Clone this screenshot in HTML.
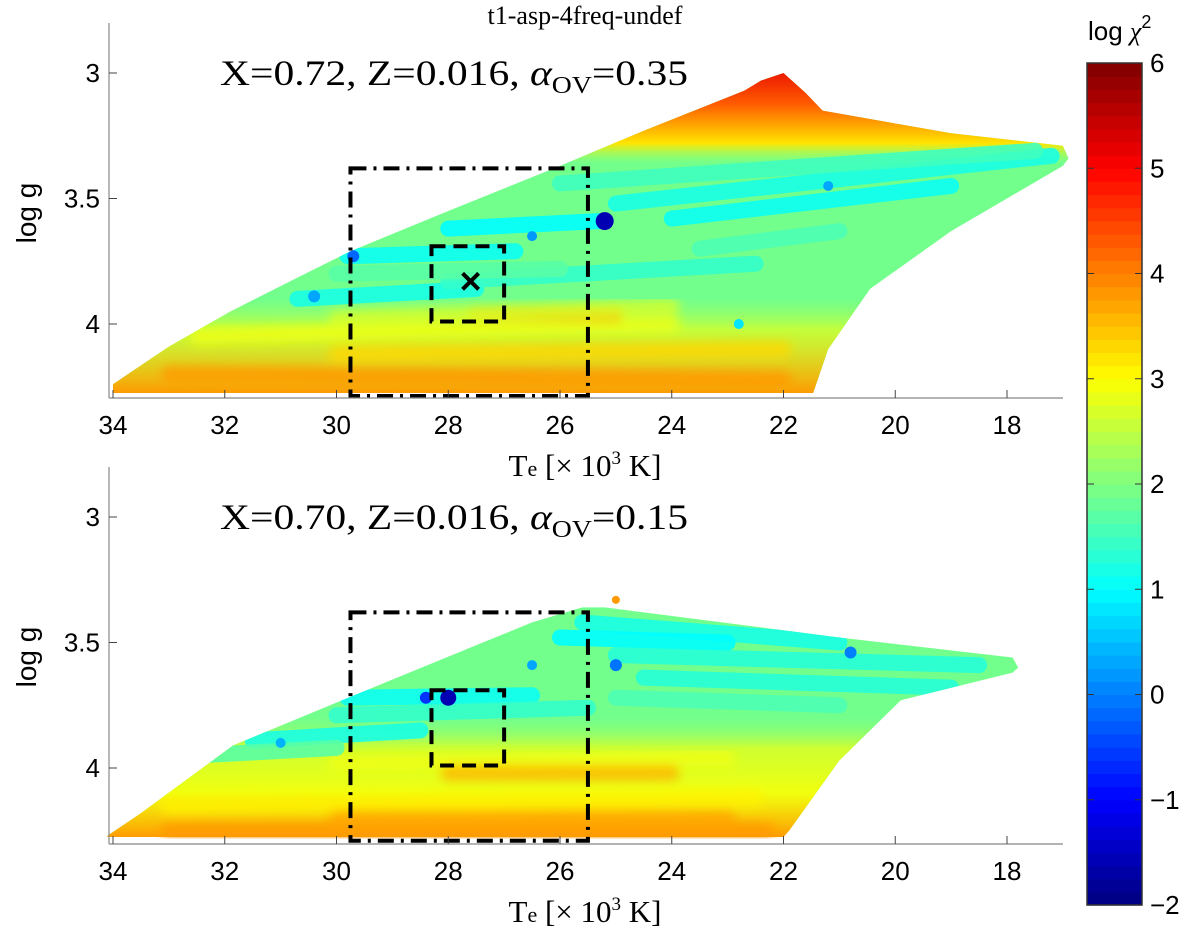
<!DOCTYPE html>
<html><head><meta charset="utf-8"><style>
body{margin:0;background:#fff;}
svg{display:block;font-family:"Liberation Sans",sans-serif;}
.serif{font-family:"Liberation Serif",serif;}
</style></head><body>
<svg id="chart" width="1200" height="945" viewBox="0 0 1200 945">
<defs><filter id="blur" x="-10%" y="-10%" width="120%" height="120%"><feGaussianBlur stdDeviation="5"/></filter></defs>
</svg>
<script>
// ---- data ----
const xTicks=[34,32,30,28,26,24,22,20,18];
const yTicks=[3,3.5,4];
const cbTicks=[6,5,4,3,2,1,0,-1,-2];
const cbTickLabels=["6","5","4","3","2","1","0","\u22121","\u22122"];
// shape outlines [Te, logg]
const topShape=[[34,4.24],[33.6,4.18],[33,4.09],[31.9,3.95],[30.65,3.81],[29.75,3.71],[28,3.55],[26,3.37],[24.5,3.23],[22.7,3.07],[22.4,3.03],[22,3.0],[21.6,3.08],[21.3,3.15],[19,3.24],[17,3.29],[16.9,3.34],[17,3.37],[19,3.63],[20.45,3.86],[21.2,4.1],[21.5,4.3],[34,4.3]];
const botShape=[[34.1,4.27],[33.5,4.18],[31.85,3.91],[29.9,3.73],[27.6,3.52],[26.5,3.42],[25.6,3.36],[25.2,3.36],[21,3.48],[17.9,3.56],[17.8,3.6],[17.9,3.62],[19.9,3.73],[21,3.97],[21.9,4.25],[22.1,4.3],[34.1,4.3]];
// streaks [Te1, g1, Te2, g2, log chi2]
const topStreaks=[[29.8,3.73,26.8,3.71,1.1],[28,3.62,25.3,3.59,1.0],[25,3.52,17.2,3.33,1.2],[26,3.44,17.5,3.31,1.5],[24,3.58,19,3.45,1.1],[30.7,3.9,27.5,3.86,1.2],[28,3.83,22.5,3.76,1.4],[23.5,3.7,21,3.63,1.6],[30,3.80,26,3.78,1.7]];
const topWarm=[[32.5,4.05,24,4.0,2.9],[30,4.12,22,4.1,3.3],[27.5,3.96,25,3.96,3.6],[33,4.2,22,4.22,3.8],[30,3.98,24,3.93,2.7]];
const botStreaks=[[25.6,3.42,21,3.5,1.2],[25,3.55,18.5,3.59,1.3],[24.5,3.64,19,3.68,1.3],[26,3.48,23,3.5,1.0],[29.8,3.72,26.5,3.71,1.1],[31.5,3.89,28.5,3.85,1.2],[30,3.79,25.5,3.76,1.4],[25,3.72,21,3.75,1.6],[32.5,3.95,30,3.92,1.7]];
const botWarm=[[30,3.98,23,3.96,2.9],[28,4.02,24,4.02,3.6],[33,4.15,22.5,4.12,3.1],[33,4.25,22.3,4.25,3.8],[30,4.2,23,4.2,3.7]];
const topPoints=[[25.2,3.59,-1.6,9],[29.7,3.73,-0.2,6],[30.4,3.89,0.3,6],[26.5,3.65,0.2,5],[21.2,3.45,0.3,5],[22.8,4.0,0.8,5]];
const botPoints=[[28,3.72,-1.6,8],[28.4,3.72,-0.6,6],[25,3.59,-0.1,6],[20.8,3.54,0,6],[25,3.33,3.8,4],[31,3.9,0.4,5],[26.5,3.59,0.3,5]];
const innerBox=[28.3,3.69,27.0,3.99];
const outerBox=[29.75,3.38,25.5,4.29];
const starPt=[27.6,3.83];

// ---- helpers ----
function jet(v){let t=(v+2)/8;t=Math.max(0,Math.min(1,t));
 const f=x=>Math.max(0,Math.min(1,1.5-Math.abs(4*t-x)));
 return `rgb(${Math.round(255*f(3))},${Math.round(255*f(2))},${Math.round(255*f(1))})`;}
const svg=document.getElementById('chart');const NS='http://www.w3.org/2000/svg';
function mk(tag,attrs,parent){const e=document.createElementNS(NS,tag);for(const k in attrs)e.setAttribute(k,attrs[k]);(parent||svg).appendChild(e);return e;}
const xs=te=>113+(34-te)*55.875;
function panel(id,y3,yb,shape,streaks,warm,points,grad,label){
 const ys=g=>y3+(g-3)*251;
 const g=mk('g',{});
 
 
 const cp=mk('clipPath',{id:id+'-clip'},g);
 mk('polygon',{points:shape.map(p=>xs(p[0])+','+Math.min(ys(p[1]),yb)).join(' ')},cp);
 const fg=mk('g',{'clip-path':`url(#${id}-clip)`},g);
 
 
 mk('rect',{x:90,y:y3-80,width:1000,height:400,fill:jet(1.9)},fg);
 const lg=mk('linearGradient',{id:id+'-g',gradientUnits:'userSpaceOnUse',x1:0,x2:0,y1:ys(2.95),y2:ys(4.3)},g);
 grad.forEach(s=>mk('stop',{offset:(ys(s[0])-ys(2.95))/(ys(4.3)-ys(2.95)),'stop-color':jet(s[1]),'stop-opacity':s[2]},lg));
 mk('rect',{x:90,y:y3-80,width:1000,height:400,fill:`url(#${id}-g)`},fg);
 const bl=mk('g',{filter:'url(#blur)'},fg);
 warm.forEach(s=>{const l=mk('line',{x1:xs(s[0]),y1:ys(s[1]),x2:xs(s[2]),y2:ys(s[3]),stroke:jet(s[4]),'stroke-width':16,'stroke-linecap':'round',opacity:0.8},bl);
  });
 streaks.forEach(s=>{const l=mk('line',{x1:xs(s[0]),y1:ys(s[1]),x2:xs(s[2]),y2:ys(s[3]),stroke:jet(s[4]),'stroke-width':16,'stroke-linecap':'round',opacity:0.9},fg);
  });
 points.forEach(p=>{const c=mk('circle',{cx:xs(p[0]),cy:ys(p[1]),r:p[3],fill:jet(p[2])},p[2]>3?g:fg);
  });
 const ob=mk('rect',{x:xs(outerBox[0]),y:ys(outerBox[1]),width:xs(outerBox[2])-xs(outerBox[0]),height:Math.min(ys(outerBox[3]),yb-2)-ys(outerBox[1]),fill:'none',stroke:'#000','stroke-width':4,'stroke-dasharray':'16,7,3,7'},g);
 
 const ib=mk('rect',{x:xs(innerBox[0]),y:ys(innerBox[1]),width:xs(innerBox[2])-xs(innerBox[0]),height:ys(innerBox[3])-ys(innerBox[1]),fill:'none',stroke:'#000','stroke-width':4,'stroke-dasharray':'14,8'},g);
 
 const ax=mk('path',{d:`M109 ${yb} H1063 M109 ${yb} V${y3-50}`,stroke:'#888','stroke-width':1.2,fill:'none'},g);
 
 xTicks.forEach(t=>{mk('line',{x1:xs(t),x2:xs(t),y1:yb,y2:yb-8,stroke:'#444'},g);
  const tx=mk('text',{x:xs(t),y:yb+36,'text-anchor':'middle','font-size':26},g);tx.textContent=t;
  });
 yTicks.forEach(t=>{mk('line',{x1:109,x2:117,y1:ys(t),y2:ys(t),stroke:'#444'},g);
  const tx=mk('text',{x:100,y:ys(t)+9,'text-anchor':'end','font-size':26},g);tx.textContent=t;
  });
 const xl=mk('text',{x:585,y:yb+78,'text-anchor':'middle','font-size':31,class:'serif'},g);
 xl.innerHTML='T<tspan font-size="22">e</tspan> [× 10<tspan font-size="19" dy="-12">3</tspan><tspan dy="12"> K]</tspan>';
 
 const yl=mk('text',{x:0,y:0,'text-anchor':'middle','font-size':28,transform:`translate(36,${y3+140}) rotate(-90)`},g);yl.textContent='log g';
 
 const an=mk('text',{x:220,y:y3+12,'font-size':36,class:'serif',textLength:468,lengthAdjust:'spacingAndGlyphs'},g);
 an.innerHTML=label+', <tspan font-style="italic">α</tspan><tspan font-size="24" dy="8">OV</tspan><tspan dy="-8">=</tspan>'+(id==='top-panel'?'0.35':'0.15');
 
 return ys;
}
const ysT=panel('top-panel',73,398,topShape,topStreaks,topWarm,topPoints,
 [[2.95,5.2,1],[3.12,4.3,1],[3.28,3.2,1],[3.36,2.4,0],[3.9,2.4,0],[4.02,2.8,0.7],[4.28,3.8,1]],'X=0.72, Z=0.016');
const ysB=panel('bottom-panel',517,844,botShape,botStreaks,botWarm,botPoints,
 [[2.95,1.9,0],[3.8,2.2,0],[3.92,2.8,0.8],[4.1,3.0,0.9],[4.28,3.8,1]],'X=0.70, Z=0.016');
const sx=xs(starPt[0]),sy=ysT(starPt[1]);
const st=mk('path',{d:`M${sx-8} ${sy-8}L${sx+8} ${sy+8}M${sx-8} ${sy+8}L${sx+8} ${sy-8}`,stroke:'#000','stroke-width':4});

const ti=mk('text',{x:585,y:24,'text-anchor':'middle','font-size':26,class:'serif'});ti.textContent='t1-asp-4freq-undef';

const cb=mk('g',{});


const cy=v=>63+(6-v)*105.25;
for(let i=0;i<64;i++){const v=-2+8*(i+0.5)/64;mk('rect',{x:1087,y:cy(-2+8*(i+1)/64),width:55,height:105.25*8/64+0.6,fill:jet(v)},cb);}
mk('rect',{x:1087,y:63,width:55,height:842,fill:'none',stroke:'#333','stroke-width':1.5},cb);
cbTicks.forEach((t,i)=>{mk('line',{x1:1087,x2:1094,y1:cy(t),y2:cy(t),stroke:'#333'},cb);mk('line',{x1:1135,x2:1142,y1:cy(t),y2:cy(t),stroke:'#333'},cb);
 const tx=mk('text',{x:1150,y:cy(t)+9,'font-size':26},cb);tx.textContent=cbTickLabels[i];
 });
const ct=mk('text',{x:1088,y:40,'font-size':26});ct.innerHTML='log <tspan font-family="Liberation Serif" font-style="italic">χ</tspan><tspan font-size="18" dy="-12">2</tspan>';

</script>
</body></html>
